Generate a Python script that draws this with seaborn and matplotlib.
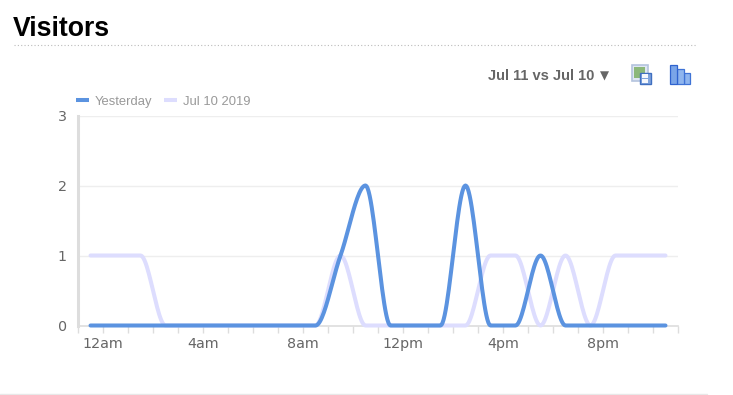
import numpy as np
import pandas as pd
import seaborn as sns
import matplotlib
matplotlib.use('Agg')
import matplotlib.pyplot as plt
from matplotlib.patches import Rectangle
from matplotlib.lines import Line2D

hours = list(range(24))
yesterday = [0, 0, 0, 0, 0, 0, 0, 0, 0, 0, 1, 2, 0, 0, 0, 2, 0, 0, 1, 0, 0, 0, 0, 0]
jul_10 = [1, 1, 1, 0, 0, 0, 0, 0, 0, 0, 1, 0, 0, 0, 0, 0, 1, 1, 0, 1, 0, 1, 1, 1]
y_ticks = [0, 1, 2, 3]
x_labels = ['12am', '4am', '8am', '12pm', '4pm', '8pm']
x_label_pos = [0.5, 4.5, 8.5, 12.5, 16.5, 20.5]

W, H = 733, 395


def smooth(xs, ys, per_hour=24):
    # monotone cubic through the hourly values, only so the line draws rounded like the original
    xs = np.array(xs, dtype=float)
    ys = np.array(ys, dtype=float)
    d = np.diff(ys)
    m = np.zeros(len(ys))
    for i in range(1, len(ys) - 1):
        if d[i - 1] * d[i] > 0:
            m[i] = 2 * d[i - 1] * d[i] / (d[i - 1] + d[i])
    out_x, out_y = [], []
    for i in range(len(xs) - 1):
        t = np.linspace(0, 1, per_hour, endpoint=False)
        out_x.extend(xs[i] + t)
        out_y.extend((2*t**3 - 3*t**2 + 1) * ys[i] + (t**3 - 2*t**2 + t) * m[i]
                     + (-2*t**3 + 3*t**2) * ys[i + 1] + (t**3 - t**2) * m[i + 1])
    out_x.append(xs[-1])
    out_y.append(ys[-1])
    return out_x, out_y


sx, sy1 = smooth(hours, yesterday)
_, sy2 = smooth(hours, jul_10)
df = pd.DataFrame({'hour': sx + sx,
                   'visitors': sy1 + sy2,
                   'series': ['Yesterday'] * len(sx) + ['Jul 10 2019'] * len(sx)})

sns.set_style('white')
plt.rcParams['font.family'] = ['Liberation Sans', 'DejaVu Sans']

fig = plt.figure(figsize=(W / 100, H / 100), dpi=100)
ax = fig.add_axes([78 / W, 1 - 325.5 / H, 600 / W, 210 / H])

sns.lineplot(data=df, x='hour', y='visitors', hue='series', hue_order=['Jul 10 2019', 'Yesterday'],
             palette={'Yesterday': '#5b93e0', 'Jul 10 2019': '#ddddfe'},
             linewidth=2.9, estimator=None, sort=False, ax=ax, legend=False, clip_on=False)

ax.set_xlim(-0.5, 23.5)
ax.set_ylim(0, 3)
ax.set_xlabel('')
ax.set_ylabel('')
ax.set_yticks(y_ticks)
ax.set_xticks(x_label_pos)
ax.set_xticklabels(x_labels, family='DejaVu Sans', fontsize=10.3, color='#666666')
ax.set_xticks(np.arange(-0.5, 24, 1), minor=True)
ax.tick_params(axis='x', which='both', length=5, width=1, color='#dddddd', bottom=True, pad=3)
ax.tick_params(axis='y', length=0, labelsize=10.3, labelcolor='#666666', pad=8)
for lab in ax.get_yticklabels():
    lab.set_family('DejaVu Sans')
ax.grid(axis='y', color='#eeeeee', lw=1)
ax.set_axisbelow(True)
for s in ['top', 'right']:
    ax.spines[s].set_visible(False)
ax.spines['left'].set_color('#dddddd')
ax.spines['left'].set_linewidth(2.2)
ax.spines['bottom'].set_color('#dddddd')
ax.spines['bottom'].set_linewidth(1.2)
# lines sit on top of the axis line
ax.spines['left'].set_zorder(1.5)
ax.spines['bottom'].set_zorder(1.5)

handles = [Line2D([], [], color='#5b93e0', lw=2.9, solid_capstyle='butt'),
           Line2D([], [], color='#ddddfe', lw=2.9, solid_capstyle='butt')]
ax.legend(handles, ['Yesterday', 'Jul 10 2019'], ncol=2, frameon=False, loc='lower left',
          bbox_to_anchor=(76 / W, 1 - 108 / H), bbox_transform=fig.transFigure,
          fontsize=9.4, labelcolor='#999999', handlelength=1.0, handletextpad=0.45,
          columnspacing=0.9, borderpad=0, borderaxespad=0)

fig.text(13 / W, 1 - 36.5 / H, 'Visitors', fontsize=19.2, fontweight='bold', color='black')
fig.text(488 / W, 1 - 80 / H, 'Jul 11 vs Jul 10', fontsize=10.5, fontweight='bold', color='#666666')
fig.text(599.5 / W, 1 - 80 / H, '▼', fontsize=8.5, color='#666666', family='DejaVu Sans')

fig.add_artist(Line2D([14 / W, 697 / W], [1 - 45 / H] * 2, color='#bbbbbb', lw=0.8, ls=(0, (1, 2))))
fig.add_artist(Line2D([0, 707 / W], [1 - 394 / H] * 2, color='#e8e8e8', lw=1))


def px_rect(x, y, w, h, **kw):
    fig.add_artist(Rectangle((x / W, 1 - (y + h) / H), w / W, h / H, transform=fig.transFigure, **kw))


# save-image icon
px_rect(631.5, 64.5, 16, 16, fc='#dfe7f3', ec='#b4c4de', lw=1.2)
px_rect(634, 67, 11, 11, fc='#8cb87a', ec='none')
px_rect(639.5, 73.5, 11, 10, fc='#7fa3dc', ec='#3f6fc0', lw=1)
px_rect(642, 74.5, 6, 3, fc='#f4f7fc', ec='none')
px_rect(642, 79.5, 6, 3.5, fc='#f4f7fc', ec='none')
# bar-chart icon
px_rect(683.5, 73, 6, 10.5, fc='#8fb5ee', ec='#3f73d6', lw=0.9)
px_rect(677, 69, 6.5, 14.5, fc='#8fb5ee', ec='#3f73d6', lw=0.9)
px_rect(669.5, 65, 7.5, 18.5, fc='#7aa5e8', ec='#2f63cf', lw=0.9)

fig.savefig('out.png', dpi=100)
